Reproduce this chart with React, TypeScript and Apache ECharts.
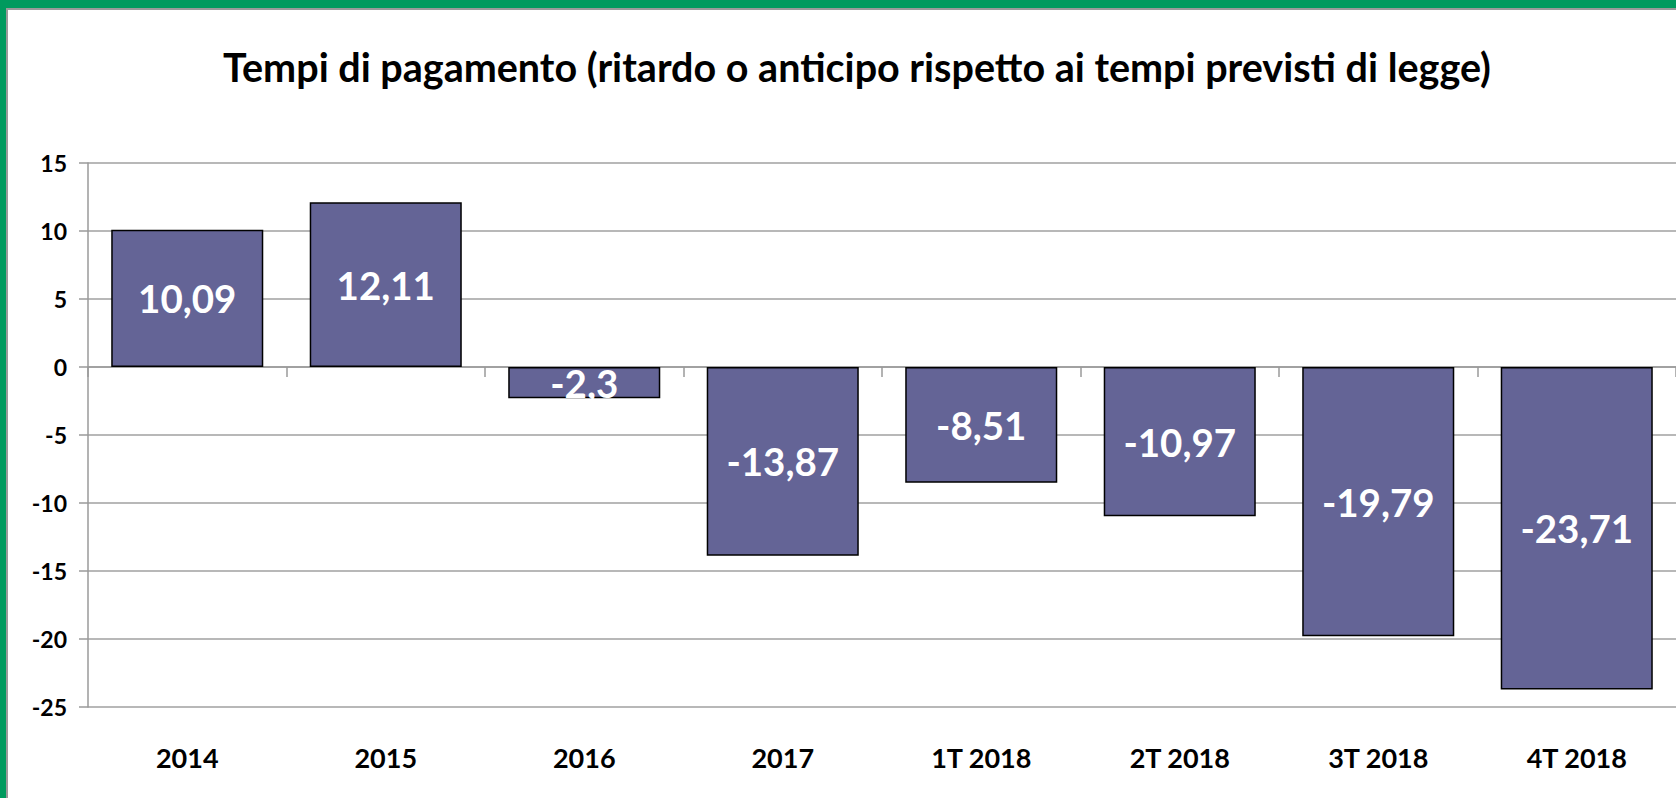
import React, { useEffect, useRef } from "react";
import * as echarts from "echarts";

const titleText = "Tempi di pagamento (ritardo o anticipo rispetto ai tempi previsti di legge)";
const categories = ["2014", "2015", "2016", "2017", "1T 2018", "2T 2018", "3T 2018", "4T 2018"];
const values = [10.09, 12.11, -2.3, -13.87, -8.51, -10.97, -19.79, -23.71];
const yMin = -25;
const yMax = 15;
const yStep = 5;

const FONT = "Lato";

export default function App() {
  const ref = useRef<HTMLDivElement>(null);
  useEffect(() => {
    if (!ref.current) return;
    const chart = echarts.init(ref.current, undefined, { renderer: "svg" });
    chart.setOption({
      animation: false,
      backgroundColor: "#ffffff",
      title: {
        text: titleText,
        left: 852,
        top: 41,
        textAlign: "center",
        textStyle: { fontFamily: FONT, fontWeight: "bold", fontSize: 39.5, color: "#000" },
      },
      graphic: [
        { type: "rect", shape: { x: 0, y: 0, width: 1676, height: 8 }, style: { fill: "#009a5e" } },
        { type: "rect", shape: { x: 0, y: 0, width: 6, height: 798 }, style: { fill: "#009a5e" } },
        { type: "rect", shape: { x: 6, y: 8, width: 1670, height: 2 }, style: { fill: "#9a9a9a" } },
        { type: "rect", shape: { x: 6, y: 8, width: 2, height: 790 }, style: { fill: "#9a9a9a" } },
      ],
      grid: { left: 88, right: 0, top: 163, bottom: 91, containLabel: false },
      xAxis: [
        {
          type: "category",
          data: categories,
          position: "bottom",
          axisLine: { onZero: true, lineStyle: { color: "#9a9a9a", width: 1.5 } },
          axisTick: { show: true, length: 10, inside: false, lineStyle: { color: "#9a9a9a", width: 1.5 } },
          axisLabel: { show: false },
        },
        {
          type: "category",
          data: categories,
          position: "bottom",
          axisLine: { show: false, onZero: false },
          axisTick: { show: false },
          axisLabel: {
            show: true,
            margin: 37,
            fontFamily: FONT,
            fontWeight: "bold",
            fontSize: 27,
            color: "#000",
          },
        },
      ],
      yAxis: {
        type: "value",
        min: yMin,
        max: yMax,
        interval: yStep,
        axisLine: { show: true, lineStyle: { color: "#9a9a9a", width: 1.5 } },
        axisTick: { show: true, length: 9, lineStyle: { color: "#9a9a9a", width: 1.5 } },
        splitLine: { show: true, lineStyle: { color: "#a0a0a0", width: 1.5 } },
        axisLabel: {
          margin: 21,
          fontFamily: FONT,
          fontWeight: "bold",
          fontSize: 23,
          color: "#000",
        },
      },
      series: [
        {
          type: "bar",
          xAxisIndex: 0,
          data: values,
          barWidth: "76.6%",
          itemStyle: { color: "#646496", borderColor: "#000", borderWidth: 1.5 },
          label: {
            show: true,
            position: "inside",
            formatter: (p: any) => String(p.value).replace(".", ","),
            fontFamily: FONT,
            fontWeight: "bold",
            fontSize: 38.5,
            color: "#fff",
          },
        },
      ],
    });
    return () => chart.dispose();
  }, []);
  return (
    <div
      ref={ref}
      style={{ position: "absolute", left: 0, top: 0, width: 1676, height: 798 }}
    />
  );
}
